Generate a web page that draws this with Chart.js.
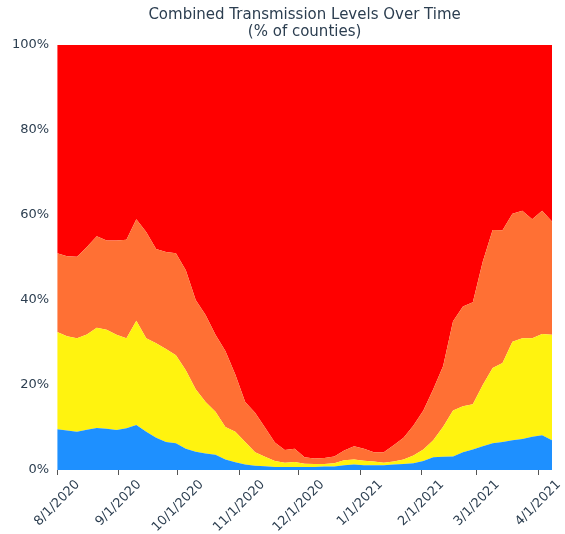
<!DOCTYPE html>
<html>
<head>
<meta charset="utf-8">
<script src="https://cdn.jsdelivr.net/npm/chart.js@4.4.1/dist/chart.umd.min.js"></script>
<style>
  html, body { margin: 0; padding: 0; background: #fff; }
  #wrap { width: 565px; height: 534px; }
</style>
</head>
<body>
<div id="wrap"><canvas id="levels"></canvas></div>
<script>
// sample dates (every 5 days)
const dates = [
  "8/1/2020", "8/6/2020", "8/11/2020", "8/16/2020", "8/21/2020", "8/26/2020", "8/31/2020",
  "9/5/2020", "9/10/2020", "9/15/2020", "9/20/2020", "9/25/2020", "9/30/2020",
  "10/5/2020", "10/10/2020", "10/15/2020", "10/20/2020", "10/25/2020", "10/30/2020",
  "11/4/2020", "11/9/2020", "11/14/2020", "11/19/2020", "11/24/2020", "11/29/2020",
  "12/4/2020", "12/9/2020", "12/14/2020", "12/19/2020", "12/24/2020", "12/29/2020",
  "1/3/2021", "1/8/2021", "1/13/2021", "1/18/2021", "1/23/2021", "1/28/2021",
  "2/2/2021", "2/7/2021", "2/12/2021", "2/17/2021", "2/22/2021", "2/27/2021",
  "3/4/2021", "3/9/2021", "3/14/2021", "3/19/2021", "3/24/2021", "3/29/2021",
  "4/3/2021", "4/8/2021"
];

// % of counties at each transmission level
const low = [
  9.6, 9.3, 9.0, 9.5, 9.9, 9.7, 9.4,
  9.8, 10.6, 9.0, 7.6, 6.6, 6.3,
  5.0, 4.3, 3.9, 3.6, 2.5, 1.8,
  1.3, 1.0, 0.9, 0.7, 0.7, 0.7,
  0.7, 0.7, 0.8, 0.8, 1.1, 1.3,
  1.1, 1.1, 1.1, 1.3, 1.4, 1.6,
  2.1, 3.0, 3.1, 3.2, 4.2, 4.8,
  5.6, 6.3, 6.6, 7.0, 7.3, 7.8,
  8.2, 7.0
];
const moderate = [
  22.9, 22.2, 22.0, 22.4, 23.6, 23.3, 22.4,
  21.2, 24.5, 22.0, 22.2, 21.9, 20.7,
  18.5, 14.7, 12.1, 10.1, 7.6, 7.2,
  5.3, 3.2, 2.2, 1.4, 1.0, 1.2,
  0.8, 0.7, 0.6, 0.8, 1.2, 1.2,
  1.1, 0.9, 0.6, 0.7, 1.1, 1.8,
  2.7, 4.0, 7.1, 10.8, 10.8, 10.7,
  14.4, 17.7, 18.6, 23.2, 23.7, 23.2,
  23.8, 24.8
];
const substantial = [
  18.5, 18.8, 19.2, 20.6, 21.5, 21.0, 22.2,
  23.2, 23.9, 25.0, 22.2, 22.8, 24.0,
  23.5, 21.0, 20.5, 18.1, 17.9, 13.5,
  9.4, 9.3, 6.9, 4.4, 3.0, 3.1,
  1.5, 1.3, 1.4, 1.6, 2.3, 3.1,
  2.8, 2.2, 2.5, 3.8, 5.1, 7.1,
  9.2, 12.0, 14.3, 21.0, 23.5, 24.0,
  29.0, 32.5, 31.2, 30.1, 30.0, 28.0,
  29.0, 26.7
];
const high = [
  49.0, 49.7, 49.8, 47.5, 45.0, 46.0, 46.0,
  45.8, 41.0, 44.0, 48.0, 48.7, 49.0,
  53.0, 60.0, 63.5, 68.2, 72.0, 77.5,
  84.0, 86.5, 90.0, 93.5, 95.3, 95.0,
  97.0, 97.3, 97.2, 96.8, 95.4, 94.4,
  95.0, 95.8, 95.8, 94.2, 92.4, 89.5,
  86.0, 81.0, 75.5, 65.0, 61.5, 60.5,
  51.0, 43.5, 43.6, 39.7, 39.0, 41.0,
  39.0, 41.5
];

const monthLabels = ["8/1/2020", "9/1/2020", "10/1/2020", "11/1/2020", "12/1/2020",
  "1/1/2021", "2/1/2021", "3/1/2021", "4/1/2021"];
const yTicks = [0, 20, 40, 60, 80, 100];

const textColor = "#2c3e50";
const fontFamily = "'DejaVu Sans', sans-serif";

// days since the first date
function dayIndex(s) {
  const p = s.split("/").map(Number);
  const t = Date.UTC(p[2], p[0] - 1, p[1]);
  const p0 = dates[0].split("/").map(Number);
  return Math.round((t - Date.UTC(p0[2], p0[0] - 1, p0[1])) / 86400000);
}
const xs = dates.map(dayIndex);
const monthPos = monthLabels.map(dayIndex);

function series(vals) {
  return vals.map((v, i) => ({ x: xs[i], y: v }));
}

function layer(label, vals, color, fill) {
  return {
    label: label,
    data: series(vals),
    backgroundColor: color,
    borderColor: color,
    borderWidth: 0,
    pointRadius: 0,
    fill: fill,
    tension: 0
  };
}

// title over the plot, and month labels rotated 45deg and centred under each tick
const decorations = {
  id: "decorations",
  afterDraw(chart) {
    const ctx = chart.ctx;
    const area = chart.chartArea;
    const cx = (area.left + area.right) / 2;
    ctx.save();
    ctx.fillStyle = textColor;
    ctx.font = "15px " + fontFamily;
    ctx.textAlign = "center";
    ctx.textBaseline = "middle";
    ctx.fillText("Combined Transmission Levels Over Time", cx, 15);
    ctx.fillText("(% of counties)", cx, 32);

    const xScale = chart.scales.x;
    const fs = 13;
    ctx.font = fs + "px " + fontFamily;
    monthPos.forEach((v, i) => {
      const x = xScale.getPixelForValue(v);
      const w = ctx.measureText(monthLabels[i]).width;
      const box = (w + fs) * Math.SQRT1_2;
      const top = area.bottom + 5 + 3;
      ctx.save();
      ctx.translate(x, top + box / 2);
      ctx.rotate(-Math.PI / 4);
      ctx.fillText(monthLabels[i], 0, 0);
      ctx.restore();
    });
    ctx.restore();
  }
};

new Chart(document.getElementById("levels"), {
  type: "line",
  data: {
    datasets: [
      layer("Low", low, "#1e90ff", "origin"),
      layer("Moderate", moderate, "#fff30f", "-1"),
      layer("Substantial", substantial, "#ff7034", "-1"),
      layer("High", high, "#ff0000", "-1")
    ]
  },
  options: {
    responsive: true,
    maintainAspectRatio: false,
    animation: false,
    layout: { padding: { top: 45, right: 13, left: 4, bottom: 59 } },
    plugins: {
      legend: { display: false },
      tooltip: { enabled: false }
    },
    scales: {
      x: {
        type: "linear",
        min: 0,
        max: xs[xs.length - 1],
        afterBuildTicks(scale) {
          scale.ticks = monthPos.map(v => ({ value: v }));
        },
        ticks: { display: false },
        grid: {
          display: true,
          drawOnChartArea: false,
          drawTicks: true,
          tickLength: 5,
          color: "#555"
        },
        border: { display: false }
      },
      y: {
        stacked: true,
        min: 0,
        max: 100,
        afterBuildTicks(scale) {
          scale.ticks = yTicks.map(v => ({ value: v }));
        },
        ticks: {
          color: textColor,
          font: { family: fontFamily, size: 13 },
          padding: 8,
          callback: v => v + "%"
        },
        grid: { display: false, drawTicks: false },
        border: { display: false }
      }
    }
  },
  plugins: [decorations]
});
</script>
</body>
</html>
